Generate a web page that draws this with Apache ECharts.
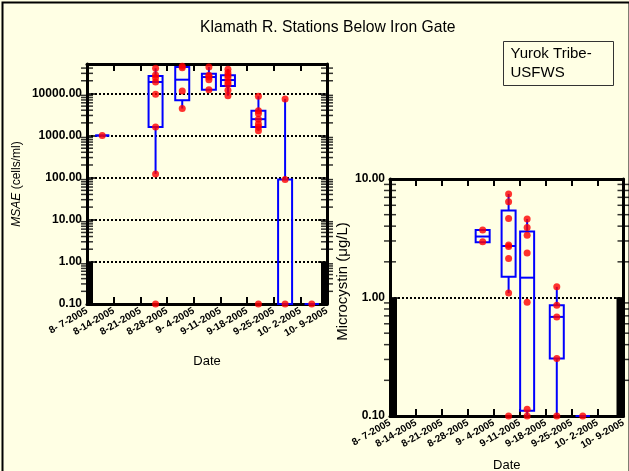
<!DOCTYPE html>
<html><head><meta charset="utf-8">
<script src="https://cdn.jsdelivr.net/npm/echarts@6/dist/echarts.min.js"></script>
<style>html,body{margin:0;padding:0;background:#FFFFE4}#c{width:629px;height:471px}</style>
</head><body><div id="c"></div>
<script>
// ---- data ----
const startDate = '2005-08-07';
const tickLabels = ['8- 7-2005','8-14-2005','8-21-2005','8-28-2005','9- 4-2005','9-11-2005','9-18-2005','9-25-2005','10- 2-2005','10- 9-2005'];

// MSAE (cells/ml)
const msaeDates  = ['2005-08-11','2005-08-25','2005-09-01','2005-09-08','2005-09-13','2005-09-21','2005-09-28','2005-10-05'];
const msaeMin    = [1000,   123,  4370, 12300,  8870, 1300,  0.1, 0.1];
const msaeQ1     = [1000,  1600,  6900, 12300, 15000, 1600,  0.1, 0.1];
const msaeMedian = [1000, 18700, 21200, 24500, 20800, 2450,  0.1, 0.1];
const msaeQ3     = [1000, 25900, 42300, 29400, 26900, 3860,   90, 0.1];
const msaeMax    = [1000, 39500, 42300, 42300, 37300, 8580, 7410, 0.1];
const msaePoints = [
  [1000],
  [39500, 27400, 23600, 18700, 9600, 1600, 123, 0.1],
  [44000, 41000, 11500, 4370],
  [42300, 27000, 24500, 21200, 12300],
  [37300, 31000, 26900, 23600, 19000, 16500, 11900, 8870],
  [8580, 3860, 3330, 2450, 1870, 1600, 1300, 0.1],
  [7410, 90, 0.1],
  [0.1]
];

// Microcystin (ug/L)
const mcDates  = ['2005-09-01','2005-09-08','2005-09-13','2005-09-21','2005-09-28'];
const mcMin    = [2.92, 1.09, 0.1,   0.1,   0.1];
const mcQ1     = [2.92, 1.50, 0.111, 0.305, 0.1];
const mcMedian = [3.27, 2.72, 1.47,  0.686, 0.1];
const mcQ3     = [3.71, 5.43, 3.61,  0.861, 0.1];
const mcMax    = [3.71, 7.47, 4.59,  1.23,  0.1];
const mcPoints = [
  [3.71, 2.95],
  [7.47, 6.43, 4.65, 2.77, 2.70, 2.13, 1.09, 0.1],
  [4.59, 3.90, 3.36, 2.38, 0.914, 0.114, 0.1],
  [1.23, 0.861, 0.686, 0.305, 0.1],
  [0.1]
];

// axis ranges
const msaeRange = [0.1, 50000];
const mcRange = [0.1, 10];

// ---- helpers ----
const DAY = 86400000;
const dayOf = d => Math.round((Date.parse(d) - Date.parse(startDate)) / DAY);
const xMax = (tickLabels.length - 1) * 7;

function boxData(dates, mn, q1, md, q3, mx) {
  return dates.map((d, i) => [dayOf(d), mn[i], q1[i], md[i], q3[i], mx[i]]);
}
function pointData(dates, pts) {
  const out = [];
  dates.forEach((d, i) => pts[i].forEach(v => out.push([dayOf(d), v])));
  return out;
}
// log-axis minor tick positions (2..9 of each decade) at one frame edge
function minorTicks(range, xEdge) {
  const out = [];
  const e0 = Math.round(Math.log10(range[0])), e1 = Math.ceil(Math.log10(range[1]) - 1e-9);
  for (let e = e0; e < e1; e++) {
    for (let k = 2; k <= 9; k++) {
      const v = k * Math.pow(10, e);
      if (v > range[0] && v < range[1]) out.push([xEdge, v]);
    }
  }
  return out;
}

const BLUE = '#0000FF';
function boxRender(params, api) {
  const x = api.value(0);
  const pMin = api.coord([x, api.value(1)]);
  const pQ1 = api.coord([x, api.value(2)]);
  const pMed = api.coord([x, api.value(3)]);
  const pQ3 = api.coord([x, api.value(4)]);
  const pMax = api.coord([x, api.value(5)]);
  const hw = 7;
  const st = { stroke: BLUE, lineWidth: 2, fill: 'none' };
  return { type: 'group', children: [
    { type: 'line', shape: { x1: pMax[0], y1: pMax[1], x2: pQ3[0], y2: pQ3[1] }, style: st },
    { type: 'line', shape: { x1: pQ1[0], y1: pQ1[1], x2: pMin[0], y2: pMin[1] }, style: st },
    { type: 'rect', shape: { x: pQ3[0] - hw, y: pQ3[1], width: 2 * hw, height: pQ1[1] - pQ3[1] }, style: st },
    { type: 'line', shape: { x1: pMed[0] - hw, y1: pMed[1], x2: pMed[0] + hw, y2: pMed[1] }, style: st }
  ]};
}
// black bars along the lowest decade on both vertical edges
function barRender(w) {
  return function (params, api) {
    const cs = params.coordSys;
    const top = api.coord([0, api.value(1)]);
    const bot = api.coord([0, api.value(0)]);
    return { type: 'group', children: [
      { type: 'rect', shape: { x: cs.x, y: top[1], width: w, height: bot[1] - top[1] }, style: { fill: '#000' } },
      { type: 'rect', shape: { x: cs.x + cs.width - w, y: top[1], width: w, height: bot[1] - top[1] }, style: { fill: '#000' } }
    ]};
  };
}
function minorSeries(xi, yi, range) {
  const base = { type: 'scatter', xAxisIndex: xi, yAxisIndex: yi, clip: false, silent: true, symbol: 'rect',
    symbolSize: [12, 1.5], itemStyle: { color: '#000' }, z: 1 };
  return [
    Object.assign({}, base, { data: minorTicks(range, 0) }),
    Object.assign({}, base, { data: minorTicks(range, xMax) })
  ];
}

const FONT = 'Liberation Sans, Arial, sans-serif';
const isDecade = v => Math.abs(Math.log10(v) - Math.round(Math.log10(v))) < 1e-6;

function xAxes(gi, gap) {
  const common = {
    type: 'value', gridIndex: gi, min: 0, max: xMax, interval: 7,
    axisLine: { show: true, onZero: false, lineStyle: { color: '#000', width: 3 } },
    axisTick: { show: true, inside: true, length: 7, lineStyle: { color: '#000', width: 2 } },
    splitLine: { show: false }
  };
  return [
    Object.assign({}, common, {
      position: 'bottom', name: 'Date', nameLocation: 'middle', nameGap: gap,
      nameTextStyle: { fontFamily: FONT, fontSize: 13, color: '#000' },
      axisLabel: { rotate: 30, margin: 6, fontFamily: FONT, fontSize: 10, fontWeight: 'bold', color: '#000',
        formatter: v => tickLabels[Math.round(v / 7)] }
    }),
    Object.assign({}, common, { position: 'top', axisLabel: { show: false } })
  ];
}
function yAxes(gi, range, name, gap, nameStyle) {
  const common = {
    type: 'log', logBase: 10, gridIndex: gi, min: range[0], max: range[1],
    axisLine: { show: true, onZero: false, lineStyle: { color: '#000', width: 3 } },
    axisTick: { show: true, inside: true, length: 9, lineStyle: { color: '#000', width: 1.5 } }
  };
  return [
    Object.assign({}, common, {
      position: 'left', name: name, nameLocation: 'middle', nameGap: gap,
      nameTextStyle: nameStyle,
      axisLabel: { margin: 5, fontFamily: FONT, fontSize: 12, fontWeight: 'bold', color: '#000',
        formatter: v => isDecade(v) ? v.toFixed(2) : '' },
      splitLine: { show: true, lineStyle: { color: '#000', width: 2, type: [2, 2] } }
    }),
    Object.assign({}, common, { position: 'right', axisLabel: { show: false }, splitLine: { show: false } })
  ];
}

const chart = echarts.init(document.getElementById('c'), null, { renderer: 'canvas' });
chart.setOption({
  backgroundColor: '#FFFFE4',
  animation: false,
  title: { text: 'Klamath R. Stations Below Iron Gate', left: 200, top: 20, padding: 0,
    textStyle: { fontFamily: FONT, fontSize: 15.7, fontWeight: 'normal', color: '#000' } },
  grid: [
    { left: 87, top: 64, width: 240, height: 240, outerBoundsMode: 'none', containLabel: false },
    { left: 390, top: 179, width: 233.5, height: 237, outerBoundsMode: 'none', containLabel: false }
  ],
  xAxis: [...xAxes(0, 51), ...xAxes(1, 43)],
  yAxis: [
    ...yAxes(0, msaeRange, '{i|MSAE} (cells/ml)', 64,
      { fontFamily: FONT, fontSize: 12, color: '#000', rich: { i: { fontStyle: 'italic', fontFamily: FONT, fontSize: 12, color: '#000' } } }),
    ...yAxes(1, mcRange, 'Microcystin (\u03bcg/L)', 40,
      { fontFamily: FONT, fontSize: 15, color: '#000', padding: [0, 0, 0, 32] })
  ],
  graphic: [
    { type: 'rect', left: 0, top: 0, shape: { x: 1, y: 1, width: 627, height: 490 }, style: { fill: 'none', stroke: '#000', lineWidth: 2 }, silent: true },
    { type: 'group', left: 503, top: 41, children: [
      { type: 'rect', shape: { x: 0, y: 0, width: 110, height: 44 }, style: { fill: '#FFFFE4', stroke: '#333', lineWidth: 1 } },
      { type: 'text', x: 7, y: 3, style: { text: 'Yurok Tribe-\nUSFWS', font: '15px ' + FONT, fill: '#000', lineHeight: 19 } }
    ]}
  ],
  series: [
    { type: 'custom', xAxisIndex: 0, yAxisIndex: 0, renderItem: barRender(6), clip: false, silent: true,
      data: [[0.1, 1]], encode: { y: [0, 1] }, z: 1 },
    ...minorSeries(0, 0, msaeRange),
    { type: 'custom', xAxisIndex: 0, yAxisIndex: 0, renderItem: boxRender, clip: false,
      data: boxData(msaeDates, msaeMin, msaeQ1, msaeMedian, msaeQ3, msaeMax),
      encode: { x: 0, y: [1, 2, 3, 4, 5] }, z: 2 },
    { type: 'scatter', xAxisIndex: 0, yAxisIndex: 0, clip: false, symbolSize: 7,
      itemStyle: { color: '#FF0000' }, data: pointData(msaeDates, msaePoints), z: 3 },

    { type: 'custom', xAxisIndex: 2, yAxisIndex: 2, renderItem: barRender(7), clip: false, silent: true,
      data: [[0.1, 1]], encode: { y: [0, 1] }, z: 1 },
    ...minorSeries(2, 2, mcRange),
    { type: 'custom', xAxisIndex: 2, yAxisIndex: 2, renderItem: boxRender, clip: false,
      data: boxData(mcDates, mcMin, mcQ1, mcMedian, mcQ3, mcMax),
      encode: { x: 0, y: [1, 2, 3, 4, 5] }, z: 2 },
    { type: 'scatter', xAxisIndex: 2, yAxisIndex: 2, clip: false, symbolSize: 7,
      itemStyle: { color: '#FF0000' }, data: pointData(mcDates, mcPoints), z: 3 }
  ]
});
</script>
</body></html>
